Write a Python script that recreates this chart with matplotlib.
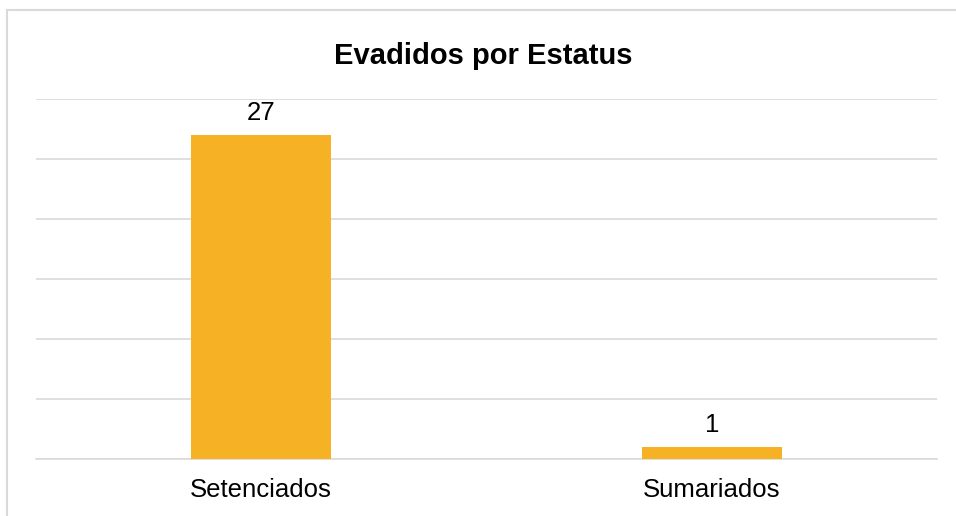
import matplotlib
matplotlib.use('Agg')
import matplotlib.pyplot as plt
from matplotlib.lines import Line2D

plt.rcParams['font.family'] = ['Liberation Sans', 'DejaVu Sans']

categorias = ['Setenciados', 'Sumariados']
evadidos = [27, 1]
titulo = 'Evadidos por Estatus'

W, H = 956, 516
fig = plt.figure(figsize=(W / 100, H / 100), dpi=100)
ax = fig.add_axes([36 / W, 57 / H, (937 - 36) / W, (459 - 99) / H])

x = range(len(categorias))
barras = ax.bar(x, evadidos, width=0.31, color='#F7B125', zorder=3)
for b, v in zip(barras, evadidos):
    ax.annotate(str(v), (b.get_x() + b.get_width() / 2, v),
                xytext=(0, 7), textcoords='offset points',
                ha='center', va='bottom', fontsize=18.5, color='#000000')

ax.set_xlim(-0.5, 1.5)
ax.set_ylim(0, 30)
ax.set_yticks(range(0, 31, 5))
ax.set_yticklabels([])
ax.set_xticks(list(x))
ax.set_xticklabels(categorias, fontsize=18.5)
ax.tick_params(axis='y', length=0)
ax.tick_params(axis='x', length=0, pad=14)
ax.grid(axis='y', color='#D9D9D9', linewidth=1.2, zorder=0)
for s in ['top', 'right', 'left']:
    ax.spines[s].set_visible(False)
ax.spines['bottom'].set_color('#D9D9D9')
ax.spines['bottom'].set_linewidth(1.2)

fig.text(483 / W, 1 - 55.5 / H, titulo, ha='center', va='center',
         fontsize=21, fontweight='bold')

# borde del grafico (solo se ven arriba e izquierda)
fig.add_artist(Line2D([6.5 / W, 6.5 / W], [0, 1 - 9.5 / H],
                      transform=fig.transFigure, color='#D9D9D9', lw=1.5))
fig.add_artist(Line2D([6.5 / W, 1], [1 - 9.5 / H, 1 - 9.5 / H],
                      transform=fig.transFigure, color='#D9D9D9', lw=1.5))

fig.savefig('out.png', dpi=100)
